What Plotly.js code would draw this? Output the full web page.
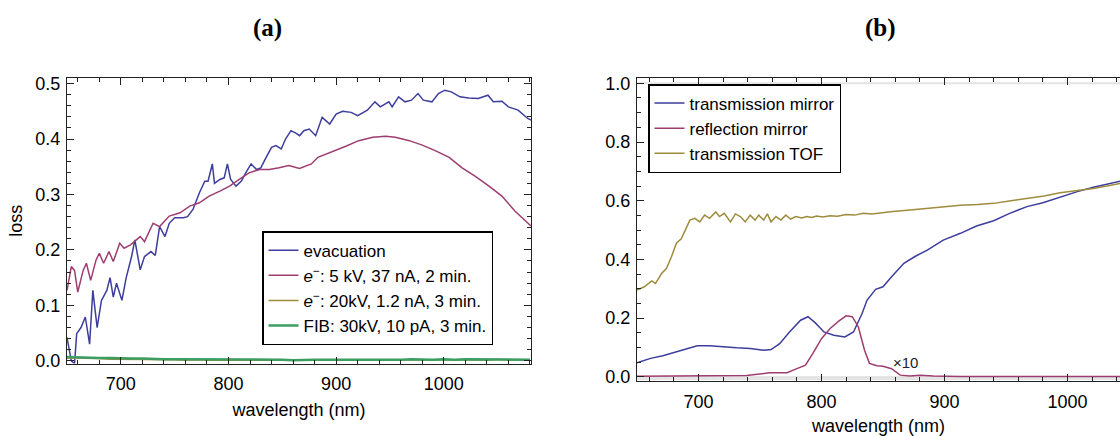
<!DOCTYPE html>
<html>
<head>
<meta charset="utf-8">
<script src="https://cdn.plot.ly/plotly-3.0.1.min.js"></script>
<style>html,body{margin:0;padding:0;background:#fff;}#chart{width:1120px;height:436px;}</style>
</head>
<body>
<div id="chart"></div>
<script>
// ---------- Panel (a): loss ----------
const evacWl = [650,654,657,659,663,667,671,674,678,682,687,690,693,696,701,705,710,713,718,722,728,732,736,741,745,750,758,762,767,773,778,781,785,787,792,796,799,802,807,812,816,821,826,830,835,840,844,849,853,858,863,866,870,875,881,887,894,900,906,914,920,929,936,941,949,952,958,964,970,976,981,989,995,1001,1007,1015,1023,1032,1041,1046,1054,1060,1069,1078,1081];
const evacLoss = [0.042,0.0,-0.005,0.049,0.06,0.079,0.03,0.127,0.06,0.109,0.127,0.15,0.115,0.14,0.109,0.15,0.188,0.218,0.164,0.188,0.197,0.19,0.242,0.224,0.248,0.258,0.258,0.26,0.273,0.303,0.324,0.324,0.355,0.32,0.327,0.33,0.355,0.327,0.315,0.324,0.339,0.355,0.345,0.348,0.367,0.385,0.388,0.382,0.4,0.415,0.41,0.406,0.415,0.418,0.406,0.439,0.427,0.445,0.45,0.448,0.442,0.452,0.467,0.458,0.467,0.458,0.476,0.467,0.47,0.482,0.47,0.467,0.482,0.488,0.485,0.476,0.474,0.473,0.479,0.467,0.468,0.458,0.452,0.437,0.434];

const e5Wl = [650,654,657,660,665,668,672,677,680,684,689,693,699,703,709,718,722,730,736,745,755,764,773,782,792,801,810,819,829,838,847,856,866,877,883,895,909,921,934,946,955,968,980,992,1005,1017,1029,1042,1054,1066,1078,1081];
const e5Loss = [0.127,0.17,0.163,0.124,0.163,0.176,0.145,0.182,0.194,0.176,0.197,0.179,0.212,0.203,0.209,0.224,0.215,0.248,0.242,0.261,0.267,0.279,0.285,0.297,0.306,0.315,0.327,0.339,0.345,0.345,0.348,0.352,0.347,0.355,0.367,0.376,0.387,0.397,0.403,0.405,0.403,0.397,0.389,0.379,0.367,0.348,0.333,0.315,0.297,0.27,0.247,0.243];

const lowWl = [650,660,670,680,690,700,710,720,730,740,750,760,770,780,790,800,810,820,830,840,850,860,870,880,890,900,910,920,930,940,950,960,970,980,990,1000,1010,1020,1030,1040,1050,1060,1070,1080];
const e20Loss = [0.005,0.005,0.004,0.004,0.003,0.003,0.003,0.002,0.002,0.002,0.002,0.001,0.002,0.001,0.001,0.001,0.001,0.001,0.001,0.001,0.001,0.0,0.001,0.001,0.001,0.001,0.0,0.001,0.001,0.001,0.001,0.001,0.002,0.001,0.001,0.002,0.001,0.002,0.002,0.001,0.003,0.001,0.002,0.001];
const fibLoss = [0.007,0.006,0.006,0.005,0.005,0.004,0.004,0.004,0.003,0.003,0.003,0.003,0.002,0.003,0.002,0.002,0.002,0.002,0.002,0.002,0.002,0.001,0.002,0.002,0.002,0.002,0.001,0.002,0.002,0.002,0.002,0.002,0.003,0.002,0.002,0.003,0.002,0.003,0.003,0.002,0.003,0.002,0.003,0.002];

// ---------- Panel (b): transmission / reflection ----------
const tofWl = [650,656,662,665,670,674,678,682,686,689,693,697,701,705,709,714,717,721,726,730,734,738,742,746,749,753,756,759,763,767,771,775,779,784,788,792,796,801,807,813,820,827,834,841,848,858,872,886,900,913,927,940,954,967,981,994,1008,1021,1032,1043];
const tofVal = [0.296,0.307,0.327,0.318,0.352,0.37,0.409,0.455,0.47,0.5,0.534,0.54,0.528,0.551,0.54,0.562,0.546,0.557,0.528,0.555,0.546,0.528,0.551,0.534,0.551,0.534,0.555,0.528,0.546,0.534,0.551,0.537,0.546,0.541,0.546,0.543,0.548,0.545,0.549,0.547,0.553,0.551,0.557,0.555,0.559,0.563,0.568,0.574,0.578,0.585,0.587,0.591,0.6,0.608,0.616,0.627,0.634,0.642,0.65,0.659];

const tmWl = [650,661,671,680,688,699,709,720,731,742,753,759,766,774,783,789,795,802,810,819,826,833,837,844,850,857,867,876,886,899,913,926,940,953,967,980,994,1008,1021,1035,1043];
const tmVal = [0.048,0.063,0.072,0.083,0.094,0.106,0.106,0.102,0.099,0.097,0.091,0.093,0.113,0.153,0.193,0.205,0.184,0.153,0.142,0.136,0.153,0.216,0.261,0.298,0.307,0.341,0.387,0.41,0.432,0.466,0.489,0.514,0.532,0.557,0.58,0.593,0.613,0.631,0.646,0.659,0.667];

const rmWl = [650,699,739,758,772,780,787,793,800,807,814,820,825,830,835,839,845,850,857,864,872,880,891,912,950,1000,1043];
const rmVal = [0.002,0.004,0.005,0.014,0.014,0.028,0.04,0.08,0.13,0.165,0.19,0.208,0.205,0.17,0.091,0.046,0.038,0.036,0.028,0.006,0.003,0.006,0.003,0.001,0.001,0.001,0.001];

const namesA = ['evacuation','<i>e</i><sup>−</sup>: 5 kV, 37 nA, 2 min.','<i>e</i><sup>−</sup>: 20kV, 1.2 nA, 3 min.','FIB: 30kV, 10 pA, 3 min.'];
const namesB = ['transmission mirror','reflection mirror','transmission TOF'];

const C_BLUE = '#3d3d9e', C_MAG = '#9e3d70', C_OLIVE = '#9e8c3d', C_GREEN = '#3d9e62';

// geometry helpers (pixel -> paper), layout only
const ML = 67, MT = 78, PW = 1053, PB = 380.7, PH = 302.7;
const px = x => (x - ML) / PW;
const py = y => (PB - y) / PH;

const traces = [
  {x: evacWl, y: evacLoss, name: namesA[0], line:{color:C_BLUE,width:1.5}, xaxis:'x', yaxis:'y', legend:'legend'},
  {x: e5Wl, y: e5Loss, name: namesA[1], line:{color:C_MAG,width:1.5}, xaxis:'x', yaxis:'y', legend:'legend'},
  {x: lowWl, y: e20Loss, name: namesA[2], line:{color:C_OLIVE,width:1.5}, xaxis:'x', yaxis:'y', legend:'legend'},
  {x: lowWl, y: fibLoss, name: namesA[3], line:{color:C_GREEN,width:2.5}, xaxis:'x', yaxis:'y', legend:'legend'},
  {x: tmWl, y: tmVal, name: namesB[0], line:{color:C_BLUE,width:1.5}, xaxis:'x2', yaxis:'y2', legend:'legend2'},
  {x: rmWl, y: rmVal, name: namesB[1], line:{color:C_MAG,width:1.5}, xaxis:'x2', yaxis:'y2', legend:'legend2'},
  {x: tofWl, y: tofVal, name: namesB[2], line:{color:C_OLIVE,width:1.5}, xaxis:'x2', yaxis:'y2', legend:'legend2'}
].map(t => Object.assign({type:'scatter', mode:'lines'}, t));

const FONT = 'Liberation Sans, Arial, sans-serif';
const FS = 18, LFS = 17;
const axBase = {
  showline:true, linecolor:'#222', linewidth:1, ticks:'inside', ticklen:7, tickwidth:1, tickcolor:'#222',
  showgrid:false, zeroline:false, tickfont:{family:FONT,size:FS,color:'#000'}
};
const minorBase = {ticks:'inside', ticklen:4, tickwidth:1, tickcolor:'#222', showgrid:false};

const layout = {
  width:1120, height:436,
  margin:{l:ML, r:0, t:MT, b:436-PB},
  paper_bgcolor:'#fff', plot_bgcolor:'#fff',
  font:{family:FONT, size:FS, color:'#000'},
  showlegend:true,
  xaxis: Object.assign({}, axBase, {domain:[0, px(531)], range:[650,1081], dtick:100, tick0:0, mirror:'ticks',
    minor:Object.assign({dtick:20}, minorBase), anchor:'y', ticklabelstandoff:4,
    title:{text:'wavelength (nm)', font:{family:FONT,size:FS}, standoff:10}}),
  yaxis: Object.assign({}, axBase, {domain:[py(363.3), 1], range:[-0.005,0.51], dtick:0.1, tick0:0, tickformat:'.1f', mirror:'ticks',
    minor:Object.assign({dtick:0.02}, minorBase), anchor:'x', ticklabelstandoff:2,
    title:{text:'loss', font:{family:FONT,size:FS}, standoff:8}}),
  xaxis2: Object.assign({}, axBase, {domain:[px(637), 1], range:[650,1042.7], dtick:100, tick0:0, mirror:'ticks',
    minor:Object.assign({dtick:20}, minorBase), anchor:'y2', ticklabelstandoff:4,
    title:{text:'wavelength (nm)', font:{family:FONT,size:FS}, standoff:10}}),
  yaxis2: Object.assign({}, axBase, {domain:[0, 1], range:[-0.014,1.018], dtick:0.2, tick0:0, tickformat:'.1f', mirror:false,
    minor:Object.assign({dtick:0.05}, minorBase), anchor:'x2', ticklabelstandoff:2}),
  legend: {x:px(262), y:py(231), xanchor:'left', yanchor:'top', bgcolor:'#fff', bordercolor:'#000', borderwidth:1.5,
    font:{family:FONT,size:LFS,color:'#000'}, itemwidth:30, tracegroupgap:0},
  legend2: {x:px(648), y:py(84), xanchor:'left', yanchor:'top', bgcolor:'#fff', bordercolor:'#000', borderwidth:1.5,
    font:{family:FONT,size:LFS,color:'#000'}, itemwidth:30, tracegroupgap:0},
  shapes: [
    {type:'line', xref:'x2 domain', x0:0, x1:1, yref:'y2', y0:-0.004, y1:-0.004, line:{color:'#e4e4e4', width:4}, layer:'below'},
    {type:'line', xref:'x2 domain', x0:0, x1:1, yref:'y2', y0:1.0, y1:1.0, line:{color:'#e4e4e4', width:2}, layer:'below'}
  ],
  annotations: [
    {text:'<b>(a)</b>', xref:'paper', yref:'paper', x:px(267), y:py(28), showarrow:false, xanchor:'center', yanchor:'middle',
      font:{family:'Liberation Serif, Times New Roman, serif', size:25, color:'#000'}},
    {text:'<b>(b)</b>', xref:'paper', yref:'paper', x:px(880), y:py(28), showarrow:false, xanchor:'center', yanchor:'middle',
      font:{family:'Liberation Serif, Times New Roman, serif', size:25, color:'#000'}},
    {text:'×10', xref:'x2', yref:'y2', x:868, y:0.05, showarrow:false, xanchor:'center', yanchor:'middle',
      font:{family:FONT, size:15, color:'#222'}}
  ]
};

Plotly.newPlot('chart', traces, layout, {staticPlot:true, displayModeBar:false});
</script>
</body>
</html>
